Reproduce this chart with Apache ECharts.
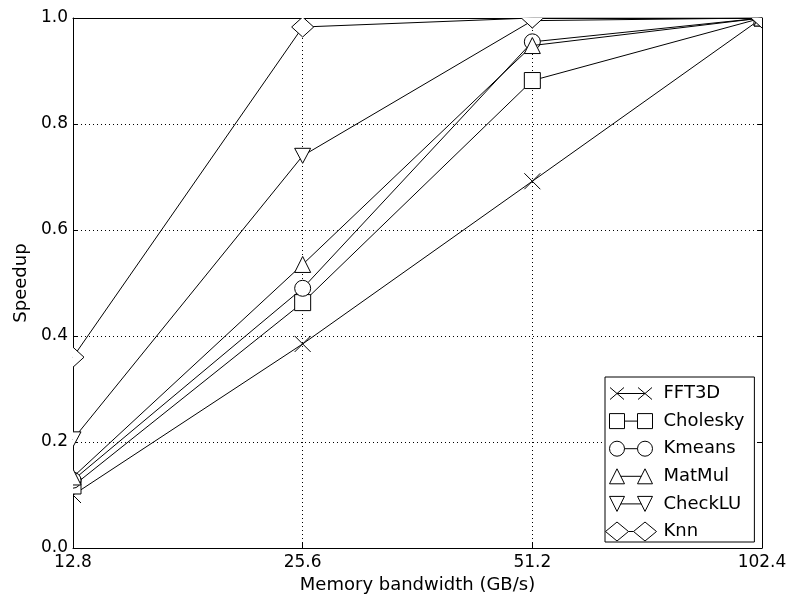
<!DOCTYPE html>
<html>
<head>
<meta charset="utf-8">
<script src="https://cdn.jsdelivr.net/npm/echarts@6/dist/echarts.min.js"></script>
<style>html,body{margin:0;padding:0;background:#fff;}#c{width:792px;height:599px;}</style>
</head>
<body>
<div id="c"></div>
<script>
const categories = ['12.8', '25.6', '51.2', '102.4'];
const yTicks = [0, 0.2, 0.4, 0.6, 0.8, 1.0];
const seriesNames = ['FFT3D', 'Cholesky', 'Kmeans', 'MatMul', 'CheckLU', 'Knn'];
const fft3d    = [0.100, 0.385, 0.692, 1.0];
const cholesky = [0.117, 0.463, 0.882, 1.0];
const kmeans   = [0.128, 0.490, 0.955, 1.0];
const matmul   = [0.134, 0.535, 0.948, 1.0];
const checklu  = [0.205, 0.740, 0.995, 1.0];
const knn      = [0.360, 0.983, 1.0, 1.0];

const FONT = 'DejaVu Sans';
const c1 = 11.5, c2 = 39.5, cy = 10;
const anchors = 'M0 0L0 0M53 20L53 20';
function lineSeg(a, b) { return `M${a} ${cy}L${b} ${cy}`; }
function xMark(c) { return `M${c-7} ${cy-6}L${c+7} ${cy+6}M${c+7} ${cy-6}L${c-7} ${cy+6}`; }
function sqMark(c) { return `M${c-7.5} 2.5L${c+7.5} 2.5L${c+7.5} 17.5L${c-7.5} 17.5Z`; }
function ciMark(c) { return `M${c-7.5} 10A7.5 7.5 0 1 1 ${c+7.5} 10A7.5 7.5 0 1 1 ${c-7.5} 10Z`; }
function tuMark(c) { return `M${c} 2.5L${c+7.5} 17.5L${c-7.5} 17.5Z`; }
function tdMark(c) { return `M${c-7.5} 2.5L${c+7.5} 2.5L${c} 17.5Z`; }
function diMark(c) { return `M${c-11.5} 10L${c} 0.5L${c+11.5} 10L${c} 19.5Z`; }
const legendIcons = [
  'path://' + anchors + xMark(c1) + xMark(c2) + lineSeg(c1, c2),
  'path://' + anchors + sqMark(c1) + sqMark(c2) + lineSeg(c1 + 7.5, c2 - 7.5),
  'path://' + anchors + ciMark(c1) + ciMark(c2) + lineSeg(c1 + 7.5, c2 - 7.5),
  'path://' + anchors + tuMark(c1) + tuMark(c2) + lineSeg(c1 + 3.75, c2 - 3.75),
  'path://' + anchors + tdMark(c1) + tdMark(c2) + lineSeg(c1 + 3.75, c2 - 3.75),
  'path://' + anchors + diMark(c1) + diMark(c2) + lineSeg(c1 + 11.5, c2 - 11.5)
];

const markerTypes = ['x', 'square', 'circle', 'tri_up', 'tri_down', 'diamond'];
const values = [fft3d, cholesky, kmeans, matmul, checklu, knn];

const mStyle = { fill: '#fff', stroke: '#000', lineWidth: 1 };
function markerElement(type, x, y) {
  switch (type) {
    case 'x':
      return { type: 'group', children: [
        { type: 'line', shape: { x1: x - 8, y1: y - 8, x2: x + 8, y2: y + 8 }, style: { stroke: '#000', lineWidth: 1 } },
        { type: 'line', shape: { x1: x + 8, y1: y - 8, x2: x - 8, y2: y + 8 }, style: { stroke: '#000', lineWidth: 1 } }
      ] };
    case 'square':
      return { type: 'rect', shape: { x: x - 8, y: y - 8, width: 16, height: 16 }, style: mStyle };
    case 'circle':
      return { type: 'circle', shape: { cx: x, cy: y, r: 8 }, style: mStyle };
    case 'tri_up':
      return { type: 'polygon', shape: { points: [[x, y - 8], [x + 8, y + 8], [x - 8, y + 8]] }, style: mStyle };
    case 'tri_down':
      return { type: 'polygon', shape: { points: [[x - 8, y - 7.5], [x + 8, y - 7.5], [x, y + 7.5]] }, style: mStyle };
    default:
      return { type: 'polygon', shape: { points: [[x - 11, y], [x, y - 10], [x + 11, y], [x, y + 10]] }, style: mStyle };
  }
}

const dotted = { show: true, lineStyle: { color: '#000', width: 1, type: [1, 3] } };
const axisLine = { show: true, onZero: false, lineStyle: { color: '#000', width: 1 } };
const tickIn = { show: true, inside: true, length: 5, lineStyle: { color: '#000', width: 1 } };

const series = [];
seriesNames.forEach((n, i) => {
  series.push({
    name: n, type: 'line', data: values[i],
    xAxisIndex: 0, yAxisIndex: 0,
    symbol: 'none',
    lineStyle: { color: '#000', width: 1 },
    itemStyle: { color: '#fff', borderColor: '#000', borderWidth: 1 },
    emphasis: { disabled: true },
    z: 2 + 2 * i
  });
  series.push({
    name: n, type: 'custom',
    xAxisIndex: 0, yAxisIndex: 0,
    clip: true,
    data: values[i].map((v, k) => [k, v]),
    encode: { x: 0, y: 1 },
    renderItem: (params, api) => {
      const p = api.coord([api.value(0), api.value(1)]);
      return markerElement(markerTypes[i], p[0], p[1]);
    },
    emphasis: { disabled: true },
    silent: true,
    z: 3 + 2 * i
  });
});

const chart = echarts.init(document.getElementById('c'), null, { renderer: 'canvas' });
chart.setOption({
  animation: false,
  backgroundColor: '#fff',
  textStyle: { fontFamily: FONT, color: '#000' },
  grid: { left: 73, top: 18, right: 30, bottom: 48, containLabel: false },
  legend: {
    orient: 'vertical',
    left: 605, top: 377,
    padding: [6, 10, 0, 0],
    itemWidth: 53, itemHeight: 20, itemGap: 6.6,
    backgroundColor: '#fff',
    borderColor: '#000', borderWidth: 1, borderRadius: 0,
    selectedMode: false,
    symbolKeepAspect: true,
    itemStyle: { color: '#fff', borderColor: '#000', borderWidth: 1 },
    textStyle: { fontFamily: FONT, fontSize: 18, color: '#000' },
    data: seriesNames.map((n, i) => ({ name: n, icon: legendIcons[i] }))
  },
  xAxis: [
    {
      type: 'category', data: categories, boundaryGap: false, position: 'bottom',
      axisLine: axisLine, axisTick: Object.assign({ alignWithLabel: true }, tickIn),
      splitLine: dotted,
      axisLabel: { color: '#000', fontFamily: FONT, fontSize: 17, margin: 6 },
      name: 'Memory bandwidth (GB/s)', nameLocation: 'middle', nameGap: 28,
      nameTextStyle: { fontFamily: FONT, fontSize: 18, color: '#000' }
    },
    {
      type: 'category', data: categories, boundaryGap: false, position: 'top',
      axisLine: axisLine, axisTick: tickIn, splitLine: { show: false },
      axisLabel: { show: false }
    }
  ],
  yAxis: [
    {
      type: 'value', min: yTicks[0], max: yTicks[yTicks.length - 1], interval: 0.2, position: 'left',
      axisLine: axisLine, axisTick: tickIn, splitLine: dotted,
      axisLabel: { color: '#000', fontFamily: FONT, fontSize: 17, margin: 5,
        formatter: v => v.toFixed(1) },
      name: 'Speedup', nameLocation: 'middle', nameGap: 41, nameRotate: 90,
      nameTextStyle: { fontFamily: FONT, fontSize: 18, color: '#000' }
    },
    {
      type: 'value', min: yTicks[0], max: yTicks[yTicks.length - 1], interval: 0.2, position: 'right',
      axisLine: axisLine, axisTick: tickIn, splitLine: { show: false },
      axisLabel: { show: false }
    }
  ],
  series: series
});
</script>
</body>
</html>
